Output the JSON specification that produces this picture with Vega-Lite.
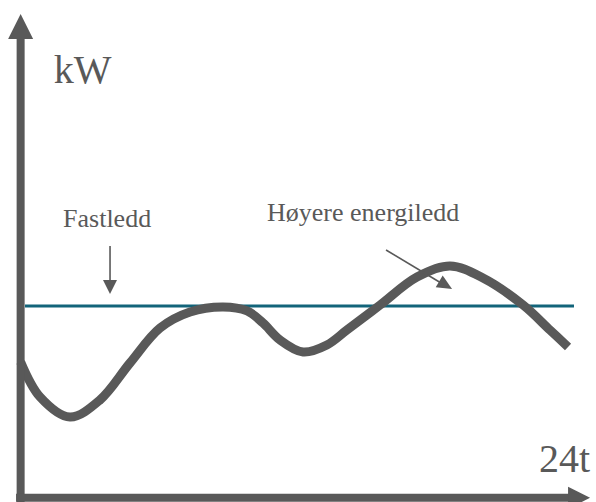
{
  "$schema": "https://vega.github.io/schema/vega-lite/v6.json",
  "width": 596,
  "height": 502,
  "padding": 0,
  "autosize": "none",
  "background": "white",
  "config": {"view": {"stroke": null}},
  "encoding": {
    "x": {"field": "t", "type": "quantitative", "scale": {"domain": [-0.9, 25.1], "nice": false, "zero": false}, "axis": null},
    "y": {"field": "v", "type": "quantitative", "scale": {"domain": [-0.4, 48.1], "nice": false, "zero": false}, "axis": null}
  },
  "layer": [
    {
      "data": {"values": [
        {"t": 0.19, "v": 18.54, "t2": 24.14}
      ]},
      "mark": {"type": "rule", "color": "#12647a", "strokeWidth": 3},
      "encoding": {"x2": {"field": "t2"}}
    },
    {
      "data": {"values": [
        {"t": 0, "v": 13.13}, {"t": 0.85, "v": 9.74}, {"t": 2.15, "v": 7.81},
        {"t": 3.46, "v": 9.46}, {"t": 4.77, "v": 13.03}, {"t": 6.08, "v": 16.41},
        {"t": 7.39, "v": 17.96}, {"t": 8.83, "v": 18.44},
        {"t": 9.88, "v": 18.06}, {"t": 10.57, "v": 16.9}, {"t": 11.31, "v": 15.26},
        {"t": 12.32, "v": 14.09}, {"t": 13.36, "v": 14.77}, {"t": 14.24, "v": 16.22},
        {"t": 15.68, "v": 18.63}, {"t": 17.29, "v": 21.34},
        {"t": 18.73, "v": 22.4}, {"t": 20.17, "v": 21.24}, {"t": 21.92, "v": 18.63},
        {"t": 23.09, "v": 16.22}, {"t": 23.88, "v": 14.58}
      ]},
      "mark": {"type": "line", "color": "#595959", "strokeWidth": 9, "interpolate": "catmull-rom", "strokeCap": "butt", "strokeJoin": "round"}
    },
    {
      "data": {"values": [
        {"t": 0, "v": -0.4, "t2": 0, "v2": 44.62},
        {"t": -0.2, "v": 0, "t2": 23.97, "v2": 0}
      ]},
      "mark": {"type": "rule", "color": "#595959", "strokeWidth": 8, "strokeCap": "butt"},
      "encoding": {"x2": {"field": "t2"}, "y2": {"field": "v2"}}
    },
    {
      "data": {"values": [
        {"t": 3.9, "v": 24.33, "t2": 3.9, "v2": 20.95},
        {"t": 15.94, "v": 23.95, "t2": 18.34, "v2": 20.76}
      ]},
      "mark": {"type": "rule", "color": "#595959", "strokeWidth": 1.6},
      "encoding": {"x2": {"field": "t2"}, "y2": {"field": "v2"}}
    },
    {
      "data": {"values": [{"t": 0, "v": 45.54}]},
      "mark": {"type": "point", "shape": "M0,-1L1,1L-1,1Z", "size": 625, "filled": true, "color": "#595959", "opacity": 1, "strokeWidth": 0}
    },
    {
      "data": {"values": [{"t": 24.36, "v": 0}]},
      "mark": {"type": "point", "shape": "M1,0L-1,-1L-1,1Z", "size": 484, "filled": true, "color": "#595959", "opacity": 1, "strokeWidth": 0}
    },
    {
      "data": {"values": [{"t": 3.9, "v": 20.37}]},
      "mark": {"type": "point", "shape": "M0,1L-1,-1L1,-1Z", "size": 196, "filled": true, "color": "#595959", "opacity": 1, "strokeWidth": 0}
    },
    {
      "data": {"values": [{"t": 18.54, "v": 20.54}]},
      "mark": {"type": "point", "shape": "M1,0L-1,-0.9L-1,0.9Z", "size": 225, "angle": 31, "filled": true, "color": "#595959", "opacity": 1, "strokeWidth": 0}
    },
    {
      "data": {"values": [
        {"t": 1.45, "v": 40.1, "label": "kW"},
        {"t": 22.61, "v": 2.5, "label": "24t"}
      ]},
      "mark": {"type": "text", "align": "left", "baseline": "alphabetic", "font": "Liberation Serif, Times New Roman, serif", "fontSize": 40, "color": "#595959"},
      "encoding": {"text": {"field": "label"}}
    },
    {
      "data": {"values": [
        {"t": 1.85, "v": 26.17, "label": "Fastledd"},
        {"t": 10.75, "v": 26.75, "label": "Høyere  energiledd"}
      ]},
      "mark": {"type": "text", "align": "left", "baseline": "alphabetic", "font": "Liberation Serif, Times New Roman, serif", "fontSize": 26, "color": "#595959"},
      "encoding": {"text": {"field": "label"}}
    }
  ]
}
